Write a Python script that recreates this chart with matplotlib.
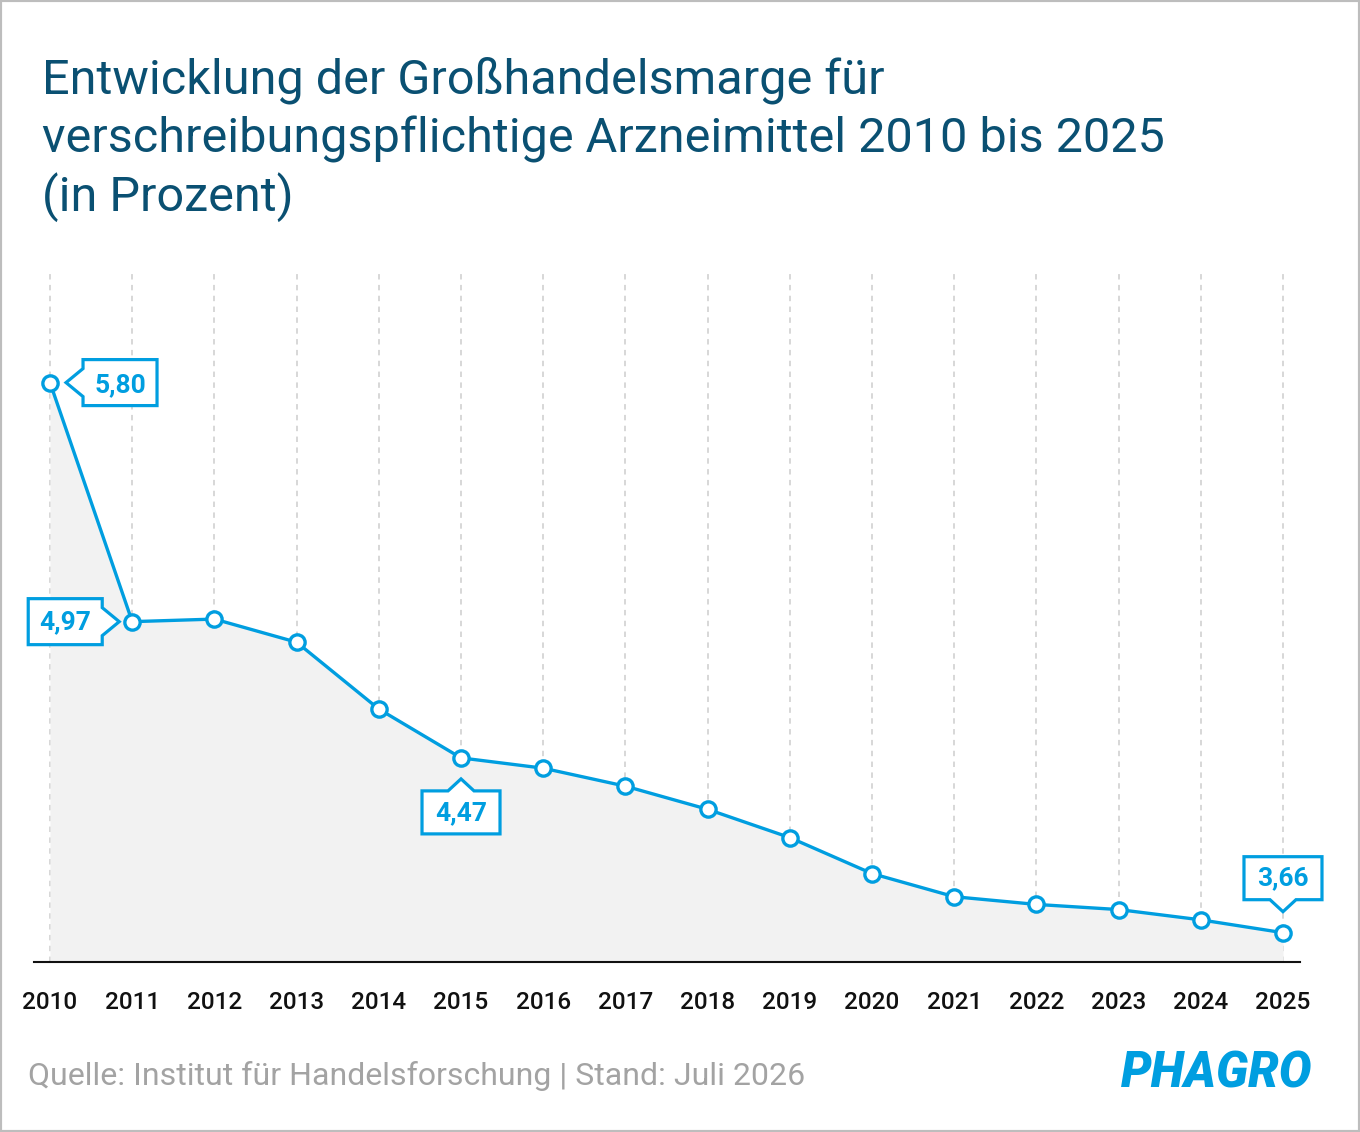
import numpy as np
import matplotlib
matplotlib.use('Agg')
from matplotlib import pyplot as plt
from matplotlib.patches import Polygon, Rectangle
from matplotlib.transforms import ScaledTranslation

plt.rcParams['font.family'] = ['Roboto', 'DejaVu Sans']

# data
years = np.arange(2010, 2026)
margin = [5.80, 4.87, 4.88, 4.79, 4.53, 4.34, 4.30, 4.23, 4.14, 4.03,
          3.89, 3.80, 3.77, 3.75, 3.71, 3.66]
label_years = [2010, 2011, 2015, 2025]
label_texts = ['5,80', '4,97', '4,47', '3,66']
label_sides = ['left', 'right', 'up', 'down']   # where the pointer sits on the box

title_lines = ['Entwicklung der Großhandelsmarge für',
               'verschreibungspflichtige Arzneimittel 2010 bis 2025',
               '(in Prozent)']
source = 'Quelle: Institut für Handelsforschung | Stand: Juli 2026'

blue = '#009ee0'
navy = '#0a5072'

W, H = 1360, 1132
fig = plt.figure(figsize=(W / 100, H / 100), dpi=100)
fig.patch.set_facecolor('white')

ax = fig.add_axes([34 / W, (H - 962) / H, (1300 - 34) / W, (962 - 270) / H])
ymin, ymax = 3.546, 6.238
ax.set_xlim(2009.805, 2025.207)
ax.set_ylim(ymin, ymax)

ax.vlines(years, ymin, ymax, colors='#d4d4d4', linestyles=(0, (3, 3)), lw=1.3, zorder=1)
ax.fill_between(years, margin, ymin, color='#f2f2f2', lw=0, zorder=2)
ax.plot(years, margin, color=blue, lw=2.4, marker='o', ms=11, mfc='white',
        mec=blue, mew=2.4, zorder=4)

for s in ['top', 'left', 'right']:
    ax.spines[s].set_visible(False)
ax.spines['bottom'].set_color('#111111')
ax.spines['bottom'].set_linewidth(1.5)
ax.spines['bottom'].set_zorder(5)
ax.set_yticks([])
ax.set_xticks(years)
ax.set_xticklabels([str(y) for y in years], fontsize=17.5, fontweight='medium',
                   color='#111111')
ax.tick_params(axis='x', length=0, pad=21)
ax.set_facecolor('none')


def callout(x, y, text, side):
    # shape in pixels relative to the point (y up), converted to inches
    if side in ('left', 'right'):
        w, h, L, hw = 74, 46, 17, 14
        if side == 'left':
            gap = 16
            x0 = gap + L
            pts = [(x0, hw), (x0, h / 2), (x0 + w, h / 2), (x0 + w, -h / 2),
                   (x0, -h / 2), (x0, -hw), (gap, 0)]
            cx, cy = x0 + w / 2, -2
        else:
            gap = 13
            x0 = -(gap + L)
            pts = [(x0, hw), (x0, h / 2), (x0 - w, h / 2), (x0 - w, -h / 2),
                   (x0, -h / 2), (x0, -hw), (-gap, 0)]
            cx, cy = x0 - w / 2, 0
    else:
        w, h, gap, L, hw = 78, 43, 21, 12, 13
        if side == 'up':
            y0 = -(gap + L)
            pts = [(hw, y0), (w / 2, y0), (w / 2, y0 - h), (-w / 2, y0 - h),
                   (-w / 2, y0), (-hw, y0), (0, -gap)]
            cx, cy = 0, y0 - h / 2
        else:
            y0 = gap + L
            pts = [(hw, y0), (w / 2, y0), (w / 2, y0 + h), (-w / 2, y0 + h),
                   (-w / 2, y0), (-hw, y0), (0, gap)]
            cx, cy = 0, y0 + h / 2
    tr = fig.dpi_scale_trans + ScaledTranslation(x, y, ax.transData)
    pts = [(px / 100, py / 100) for px, py in pts]
    ax.add_patch(Polygon(pts, closed=True, transform=tr, facecolor='white',
                         edgecolor=blue, lw=2.3, joinstyle='miter',
                         clip_on=False, zorder=6))
    ax.text(cx / 100, cy / 100 - 0.005, text, transform=tr, ha='center', va='center',
            fontsize=19, fontweight='bold', color=blue, zorder=7)


for yr, txt, side in zip(label_years, label_texts, label_sides):
    callout(yr, margin[yr - 2010], txt, side)

for i, line in enumerate(title_lines):
    fig.text(42 / W, 1 - (93 + 59 * i) / H, line, fontsize=35, color=navy,
             fontweight='normal', va='baseline', ha='left')

fig.text(28 / W, 1 - 1085 / H, source, fontsize=23, color='#a3a3a3',
         va='baseline', ha='left')
fig.text(1312 / W, 1 - 1088 / H, 'PHAGRO', fontsize=35, color=blue,
         fontweight='black', fontstyle='italic', va='baseline', ha='right')

fig.add_artist(Rectangle((0, 0), 1, 1, transform=fig.transFigure, fill=False,
                         edgecolor='#bdbdbd', lw=3))

fig.savefig('out.png', dpi=100)
